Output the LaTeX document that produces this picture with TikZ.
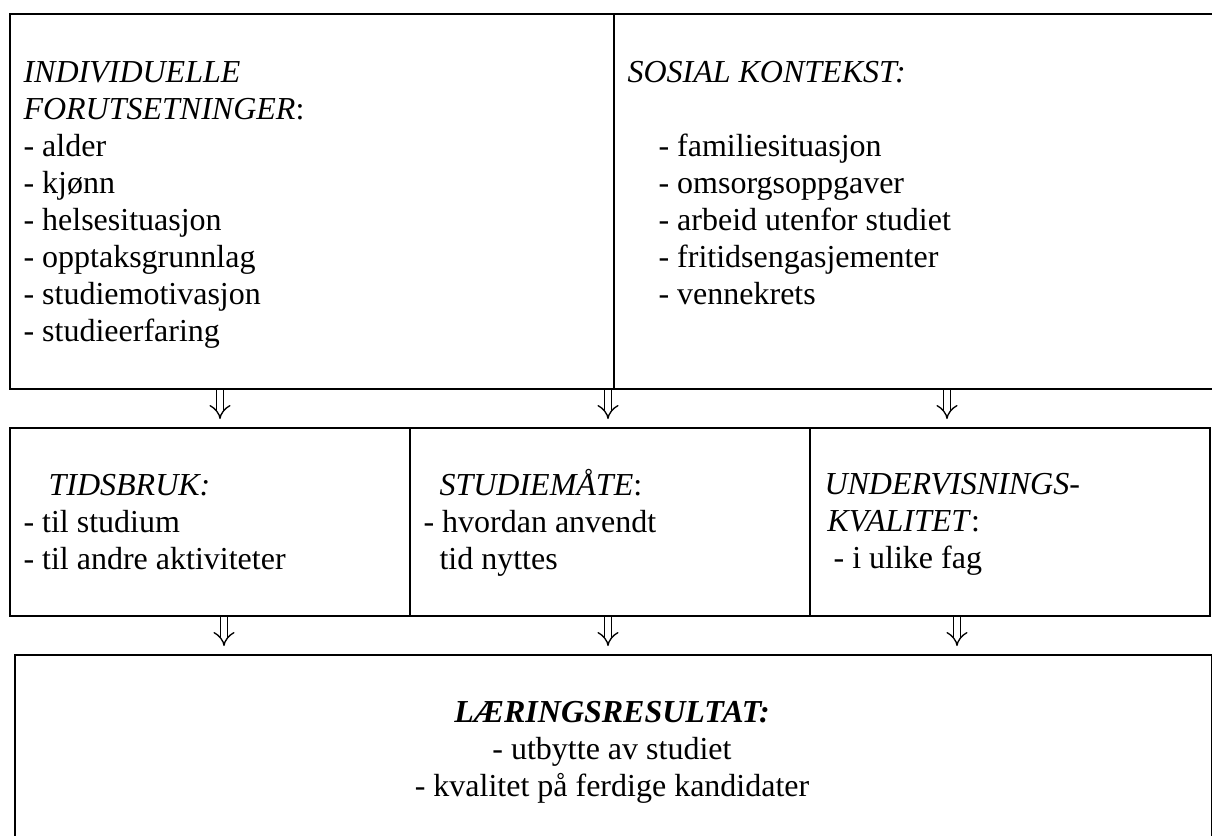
\documentclass[tikz,border=0pt]{standalone}
\usepackage{fontspec}
\setmainfont{Liberation Serif}
\usetikzlibrary{arrows.meta}
\begin{document}
\begin{tikzpicture}[x=0.375pt,y=-0.375pt,
  box/.style={draw, line width=0.8pt, inner sep=0pt, anchor=north west},
  txt/.style={font=\fontsize{12}{13.875}\selectfont, align=left, inner sep=0pt, anchor=base west},
  dbl/.style={double, double distance=2.3pt, line width=0.5pt, -{Implies[scale=1.15]}}]
\useasboundingbox (0,0) rectangle (1212,835);
\clip (0,0) rectangle (1212,835);
% boxes
\node[box, minimum width=226.5pt, minimum height=140.625pt] (topL) at (9,13) {};
\node[box, minimum width=229.5pt, minimum height=140.625pt] (topR) at (613,13) {};
\node[box, minimum width=150pt, minimum height=70.5pt] (midL) at (9,427) {};
\node[box, minimum width=150pt, minimum height=70.5pt] (midM) at (409,427) {};
\node[box, minimum width=150pt, minimum height=70.5pt] (midR) at (809,427) {};
\node[box, minimum width=448.875pt, minimum height=73.5pt] (bot) at (14,654) {};
% texts (anchored at the baseline of the last line)
\node[txt] (tL) at (23,341) {\textit{INDIVIDUELLE}\\\textit{FORUTSETNINGER}:\\- alder\\- kjønn\\- helsesituasjon\\- opptaksgrunnlag\\- studiemotivasjon\\- studieerfaring};
\node[txt] (tRh) at (627,82) {\textit{SOSIAL KONTEKST:}};
\node[txt] (tR) at (658,304) {- familiesituasjon\\- omsorgsoppgaver\\- arbeid utenfor studiet\\- fritidsengasjementer\\- vennekrets};
\node[txt] (mL) at (23,569) {\hspace*{9.4pt}\textit{TIDSBRUK:}\\- til studium\\- til andre aktiviteter};
\node[txt] (mM) at (423,569) {\hspace*{6pt}\textit{STUDIEMÅTE}:\\- hvordan anvendt\\\hspace*{6pt}tid nyttes};
\node[txt] (mR) at (824,568) {\textit{UNDERVISNINGS-}\\\hspace*{1.1pt}\textit{KVALITET}:\\\hspace*{3.4pt}- i ulike fag};
\node[txt, align=center, anchor=base] (bT) at (612,796) {\textbf{\textit{LÆRINGSRESULTAT:}}\\- utbytte av studiet\\- kvalitet på ferdige kandidater};
% arrows
\coordinate (a1) at (220,419);
\coordinate (a2) at (608,419);
\coordinate (a3) at (947,419);
\coordinate (b1) at (224,646);
\coordinate (b2) at (608,646);
\coordinate (b3) at (957,646);
\draw[dbl] (topL.south -| a1) -- (a1);
\draw[dbl] (topL.south -| a2) -- (a2);
\draw[dbl] (topR.south -| a3) -- (a3);
\draw[dbl] (midL.south -| b1) -- (b1);
\draw[dbl] (midM.south -| b2) -- (b2);
\draw[dbl] (midR.south -| b3) -- (b3);
\end{tikzpicture}
\end{document}
